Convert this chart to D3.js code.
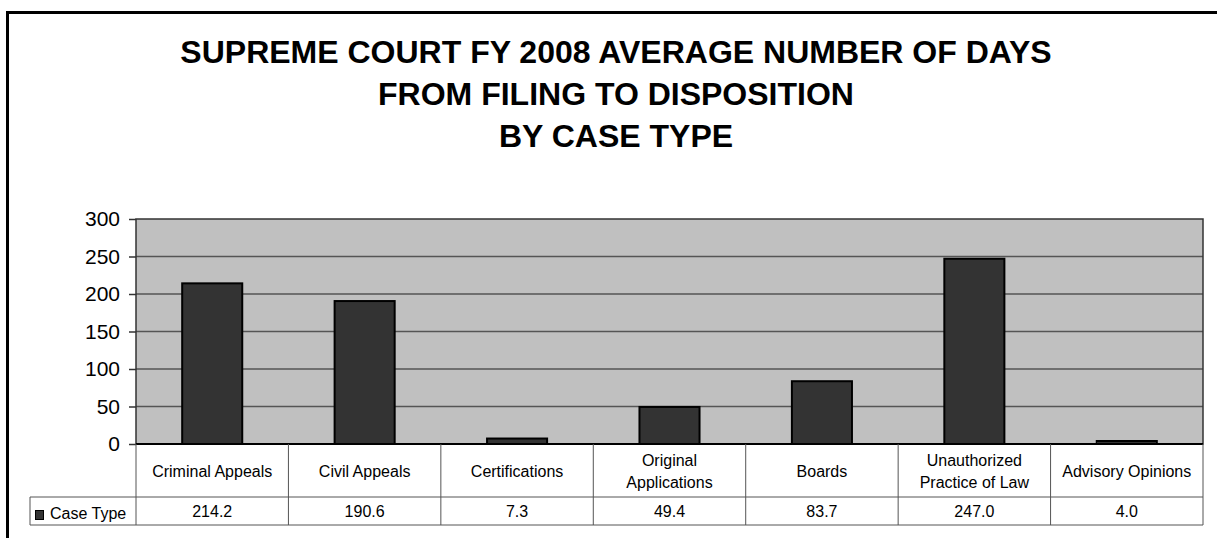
<!DOCTYPE html>
<html>
<head>
<meta charset="utf-8">
<script src="https://cdn.jsdelivr.net/npm/d3@7"></script>
<style>
  body { margin: 0; background: #fff; }
  svg text { font-family: "Liberation Sans", Arial, sans-serif; }
</style>
</head>
<body>
<div id="chart"></div>
<script>
var titleLines = ["SUPREME COURT FY 2008 AVERAGE NUMBER OF DAYS", "FROM FILING TO DISPOSITION", "BY CASE TYPE"];
var categories = ["Criminal Appeals", "Civil Appeals", "Certifications", "Original Applications", "Boards", "Unauthorized Practice of Law", "Advisory Opinions"];
var values = [214.2, 190.6, 7.3, 49.4, 83.7, 247.0, 4.0];
var seriesName = "Case Type";
var yTicks = [0, 50, 100, 150, 200, 250, 300];

var width = 1217, height = 538;
var plotLeft = 136, plotRight = 1203, plotTop = 219, plotBottom = 444;
var catRowBottom = 497, valRowBottom = 525;

var svg = d3.select("#chart").append("svg")
    .attr("width", width)
    .attr("height", height);

//outer frame, runs off the right and bottom edges
svg.append("rect")
    .attr("x", 7.5).attr("y", 12.5)
    .attr("width", width + 20).attr("height", height + 20)
    .attr("fill", "none")
    .attr("stroke", "#000")
    .attr("stroke-width", 3);

//title
svg.selectAll("text.title")
    .data(titleLines)
    .enter()
    .append("text")
    .attr("class", "title")
    .attr("x", 616)
    .attr("y", function(d, i) { return 63 + i * 42; })
    .attr("text-anchor", "middle")
    .attr("font-size", 32)
    .attr("font-weight", "bold")
    .attr("fill", "#000")
    .text(function(d) { return d; });

var y = d3.scaleLinear().domain([0, 300]).range([plotBottom, plotTop]);
var x = d3.scaleBand().domain(categories).range([plotLeft, plotRight])
    .paddingInner(0.606).paddingOuter(0.303);
var col = d3.scaleBand().domain(categories).range([plotLeft, plotRight]);

//plot background
svg.append("rect")
    .attr("x", plotLeft).attr("y", plotTop)
    .attr("width", plotRight - plotLeft).attr("height", plotBottom - plotTop)
    .attr("fill", "#c0c0c0");

//gridlines
svg.selectAll("line.grid")
    .data(yTicks.filter(function(d) { return d > 0 && d < 300; }))
    .enter()
    .append("line")
    .attr("class", "grid")
    .attr("x1", plotLeft).attr("x2", plotRight)
    .attr("y1", function(d) { return y(d); })
    .attr("y2", function(d) { return y(d); })
    .attr("stroke", "#555")
    .attr("stroke-width", 1.5);

//plot border
svg.append("rect")
    .attr("x", plotLeft).attr("y", plotTop)
    .attr("width", plotRight - plotLeft).attr("height", plotBottom - plotTop)
    .attr("fill", "none")
    .attr("stroke", "#333")
    .attr("stroke-width", 1.5);

//y axis
var yAxis = svg.append("g")
    .attr("transform", "translate(" + plotLeft + ",0)")
    .call(d3.axisLeft(y).tickValues(yTicks).tickSize(7).tickPadding(9));
yAxis.select(".domain").remove();
yAxis.selectAll(".tick line").attr("stroke", "#333").attr("stroke-width", 1.5);
yAxis.selectAll(".tick text")
    .attr("font-size", 21)
    .attr("font-family", "Liberation Sans, Arial, sans-serif")
    .attr("fill", "#000");

//bars
svg.selectAll("rect.bar")
    .data(values)
    .enter()
    .append("rect")
    .attr("class", "bar")
    .attr("x", function(d, i) { return x(categories[i]); })
    .attr("width", x.bandwidth())
    .attr("y", function(d) { return y(d); })
    .attr("height", function(d) { return y(0) - y(d); })
    .attr("fill", "#333")
    .attr("stroke", "#000")
    .attr("stroke-width", 2);

//base line
svg.append("line")
    .attr("x1", plotLeft).attr("x2", plotRight)
    .attr("y1", plotBottom).attr("y2", plotBottom)
    .attr("stroke", "#000").attr("stroke-width", 2);

//data table
var tableStroke = "#555";
var tbl = svg.append("g");

//vertical lines
var vlines = categories.map(function(c) { return col(c); }).concat([plotRight]);
tbl.selectAll("line.v")
    .data(vlines)
    .enter()
    .append("line")
    .attr("x1", function(d) { return d; })
    .attr("x2", function(d) { return d; })
    .attr("y1", plotBottom)
    .attr("y2", valRowBottom)
    .attr("stroke", tableStroke);

//horizontal lines
tbl.append("line").attr("x1", 30).attr("x2", plotRight)
    .attr("y1", catRowBottom).attr("y2", catRowBottom).attr("stroke", tableStroke);
tbl.append("line").attr("x1", 30).attr("x2", plotRight)
    .attr("y1", valRowBottom).attr("y2", valRowBottom).attr("stroke", tableStroke);
tbl.append("line").attr("x1", 30).attr("x2", 30)
    .attr("y1", catRowBottom).attr("y2", valRowBottom).attr("stroke", tableStroke);

//category labels, wrapped to the cell width
var catText = tbl.selectAll("text.cat")
    .data(categories)
    .enter()
    .append("text")
    .attr("class", "cat")
    .attr("text-anchor", "middle")
    .attr("font-size", 16)
    .attr("fill", "#000");

catText.each(function(d) {
    var t = d3.select(this);
    var cx = col(d) + col.bandwidth() / 2;
    var words = d.split(" ");
    var lines = [];
    var cur = [];
    var probe = t.append("tspan");
    words.forEach(function(w) {
        var test = cur.concat([w]).join(" ");
        probe.text(test);
        if (probe.node().getComputedTextLength() > 140 && cur.length) {
            lines.push(cur.join(" "));
            cur = [w];
        } else {
            cur.push(w);
        }
    });
    lines.push(cur.join(" "));
    probe.remove();
    var lh = 22;
    var mid = (plotBottom + catRowBottom) / 2 + 6;
    var first = mid - (lines.length - 1) * lh / 2;
    lines.forEach(function(l, i) {
        t.append("tspan").attr("x", cx).attr("y", first + i * lh).text(l);
    });
});

//values
tbl.selectAll("text.val")
    .data(values)
    .enter()
    .append("text")
    .attr("class", "val")
    .attr("x", function(d, i) { return col(categories[i]) + col.bandwidth() / 2; })
    .attr("y", 517)
    .attr("text-anchor", "middle")
    .attr("font-size", 16)
    .attr("fill", "#000")
    .text(d3.format(".1f"));

//legend key
tbl.append("rect")
    .attr("x", 35.5).attr("y", 510.5)
    .attr("width", 8).attr("height", 9)
    .attr("fill", "#333").attr("stroke", "#000");
tbl.append("text")
    .attr("x", 50).attr("y", 519)
    .attr("font-size", 16)
    .attr("fill", "#000")
    .text(seriesName);
</script>
</body>
</html>
